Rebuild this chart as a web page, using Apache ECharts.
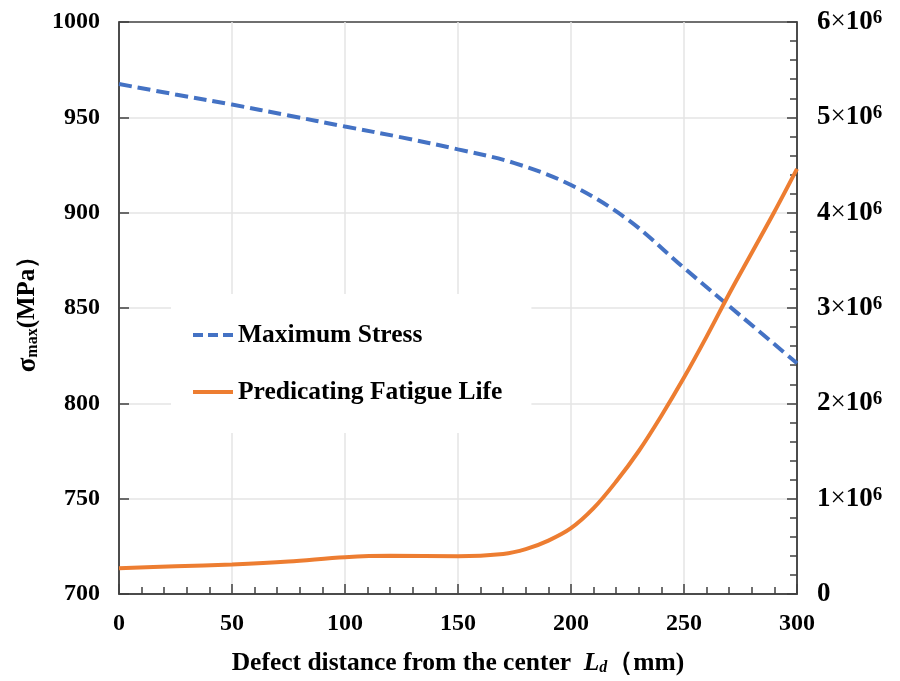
<!DOCTYPE html>
<html><head><meta charset="utf-8">
<script src="https://cdn.jsdelivr.net/npm/echarts@6/dist/echarts.min.js"></script>
<style>html,body{margin:0;padding:0;background:#fff}#c{width:900px;height:681px}</style>
</head><body><div id="c"></div>
<script>
const stressX = [0, 25, 50, 75, 100, 125, 150, 175, 200, 225, 250, 275, 300];
const stressY = [967.5, 962, 956.7, 951, 945.2, 939.5, 933.2, 926, 914.5, 896.5, 871, 846, 821];
const lifeX = [0, 25, 50, 75, 100, 120, 150, 170, 180, 190, 200, 210, 220, 230, 240, 250, 260, 270, 280, 290, 300];
const lifeY = [0.27e6, 0.29e6, 0.31e6, 0.34e6, 0.385e6, 0.40e6, 0.395e6, 0.42e6, 0.47e6, 0.56e6, 0.69e6, 0.90e6, 1.18e6, 1.50e6, 1.87e6, 2.27e6, 2.70e6, 3.15e6, 3.58e6, 4.01e6, 4.46e6];
const xTicks = {min: 0, max: 300, interval: 50};
const leftTicks = {min: 700, max: 1000, interval: 50};
const rightTicks = {min: 0, max: 6e6, interval: 1e6};
const seriesNames = ['Maximum Stress', 'Predicating Fatigue Life'];

const F = "'Liberation Serif','Times New Roman',serif";
const AX = '#404040';
const chart = echarts.init(document.getElementById('c'));
chart.setOption({
  animation: false,
  backgroundColor: '#fff',
  grid: {left: 119, right: 103, top: 22, bottom: 84, show: true, borderColor: AX, borderWidth: 1.5, backgroundColor: 'transparent'},
  legend: {
    left: 171, top: 294, orient: 'vertical', backgroundColor: '#fff',
    padding: [28, 29, 28, 22], itemGap: 31, itemWidth: 40, itemHeight: 4,
    textStyle: {fontFamily: F, fontWeight: 'bold', fontSize: 25.5, color: '#000'},
    data: [
      {name: seriesNames[0], icon: 'path://M0,0h10v4h-10z M15,0h10v4h-10z M30,0h10v4h-10z'},
      {name: seriesNames[1], icon: 'rect'}
    ]
  },
  xAxis: {
    type: 'value', min: xTicks.min, max: xTicks.max, interval: xTicks.interval,
    name: '{t|Defect distance from the center  }{i|L}{d|d}{t|（mm)}',
    nameLocation: 'middle', nameGap: 56,
    nameTextStyle: {rich: {
      t: {fontFamily: F, fontWeight: 'bold', fontSize: 25.5, color: '#000'},
      i: {fontFamily: F, fontWeight: 'bold', fontStyle: 'italic', fontSize: 25.5, color: '#000'},
      d: {fontFamily: F, fontWeight: 'bold', fontStyle: 'italic', fontSize: 16, color: '#000', verticalAlign: 'bottom', padding: [6, 0, 0, 0]}
    }},
    axisLine: {lineStyle: {color: AX, width: 1.5}},
    axisTick: {inside: true, length: 10, lineStyle: {color: AX, width: 1.5}},
    minorTick: {show: true, splitNumber: 5, length: 7, lineStyle: {color: AX, width: 1.5}},
    axisLabel: {fontFamily: F, fontWeight: 'bold', fontSize: 24, color: '#000', margin: 18},
    splitLine: {show: true, showMinLine: false, showMaxLine: false, lineStyle: {color: '#e4e4e4', width: 1.5}}
  },
  yAxis: [{
    type: 'value', min: leftTicks.min, max: leftTicks.max, interval: leftTicks.interval,
    name: '{s|σ}{sub|max}{p|(MPa）}', nameLocation: 'middle', nameRotate: 90, nameGap: 76,
    nameTextStyle: {rich: {
      s: {fontFamily: F, fontWeight: 'bold', fontSize: 27, color: '#000'},
      sub: {fontFamily: F, fontWeight: 'bold', fontSize: 16, color: '#000', verticalAlign: 'bottom', padding: [6, 0, 0, 0]},
      p: {fontFamily: F, fontWeight: 'bold', fontSize: 25, color: '#000'}
    }},
    axisLine: {show: true, lineStyle: {color: AX, width: 1.5}},
    axisTick: {show: true, inside: true, length: 10, lineStyle: {color: AX, width: 1.5}},
    axisLabel: {fontFamily: F, fontWeight: 'bold', fontSize: 24, color: '#000', margin: 19, formatter: v => String(v)},
    splitLine: {show: true, showMinLine: false, showMaxLine: false, lineStyle: {color: '#e4e4e4', width: 1.5}}
  }, {
    type: 'value', position: 'right', min: rightTicks.min, max: rightTicks.max, interval: rightTicks.interval,
    axisLine: {show: true, lineStyle: {color: AX, width: 1.5}},
    axisTick: {show: true, inside: true, length: 10, lineStyle: {color: AX, width: 1.5}},
    minorTick: {show: true, splitNumber: 5, length: 7, lineStyle: {color: AX, width: 1.5}},
    splitLine: {show: false},
    axisLabel: {
      margin: 20,
      formatter: function (v) { return v === 0 ? '{n|0}' : '{n|' + (v / 1e6) + '}{x|×}{n|10}{s|6}'; },
      rich: {
        n: {fontFamily: F, fontWeight: 'bold', fontSize: 27, color: '#000'},
        x: {fontFamily: F, fontSize: 27, color: '#000'},
        s: {fontFamily: F, fontWeight: 'bold', fontSize: 19, color: '#000', verticalAlign: 'top', padding: [0, 0, 8, 0]}
      }
    }
  }],
  series: [{
    name: seriesNames[0], type: 'line', yAxisIndex: 0, symbol: 'none', showSymbol: false, smooth: 0.35,
    lineStyle: {color: '#4472C4', width: 4, type: [13, 6]}, itemStyle: {color: '#4472C4'},
    data: stressX.map((x, i) => [x, stressY[i]])
  }, {
    name: seriesNames[1], type: 'line', yAxisIndex: 1, symbol: 'none', showSymbol: false, smooth: 0.35,
    lineStyle: {color: '#ED7D31', width: 4}, itemStyle: {color: '#ED7D31'},
    data: lifeX.map((x, i) => [x, lifeY[i]])
  }]
});
</script></body></html>
